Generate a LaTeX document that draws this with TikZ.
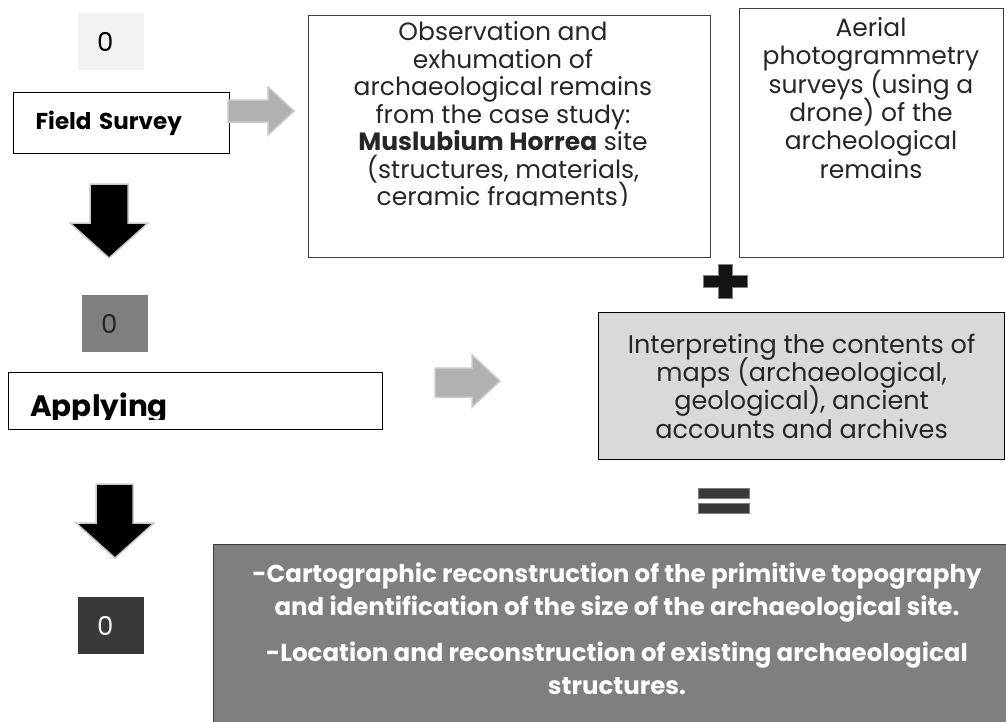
\documentclass[tikz,border=0pt]{standalone}
\usepackage{fontspec}
\setmainfont{Poppins}
\usetikzlibrary{positioning}
\definecolor{paleGray}{HTML}{F2F2F2}
\definecolor{midGray}{HTML}{7F7F7F}
\definecolor{darkGray}{HTML}{3A3838}
\definecolor{lightGray}{HTML}{D9D9D9}
\definecolor{arrowGray}{HTML}{B3B1AF}
\definecolor{rimGray}{HTML}{C9C9C9}
\definecolor{lineGray}{HTML}{404040}
\definecolor{inkBlack}{HTML}{262626}
\newcommand{\fixedlead}{\lineskiplimit=-100pt\relax}
\tikzset{
  stage box/.style={draw=black,line width=1.3pt,fill=white,anchor=north west,inner sep=0pt},
  note box/.style={draw=lineGray,line width=1.3pt,anchor=north west,inner sep=0pt},
  number tag/.style={anchor=north west,inner ysep=0pt,inner xsep=19pt,text width=28pt,align=left,
    minimum width=66pt,minimum height=57pt,font=\fontsize{26}{30}\selectfont},
  body text/.style={anchor=north,align=center,inner sep=0pt,text=inkBlack,font=\fontsize{25}{27.5}\selectfont\fixedlead},
  side arrow/.style={fill=arrowGray,draw=rimGray,line width=1.5pt,line join=miter},
  down arrow/.style={fill=black,draw=rimGray,line width=1.5pt,line join=miter},
  sign bar/.style={draw=gray,line width=.8pt}
}
\begin{document}
\begin{tikzpicture}[x=1pt,y=-1pt]
  \useasboundingbox (0,0) rectangle (1006,721);
  % left column: stages
  \node[number tag,fill=paleGray] (tag1) at (78,13) {0};
  \node[stage box,minimum width=216pt,minimum height=61pt,text width=172pt,inner xsep=22pt,align=left,
    font=\fontsize{23}{26}\selectfont\bfseries] (field) at (13,92) {Field Survey};
  \draw[down arrow] (90,184) -- (128,184) -- (128,223) -- (148,223) -- (109,258) -- (70,223) -- (90,223) -- cycle;
  \node[number tag,fill=midGray,text=inkBlack] (tag2) at (82,295) {0};
  \node[stage box,minimum width=374pt,minimum height=57pt] (apply) at (8,372) {};
  \begin{scope}
    \clip (8,372) rectangle (382,419);
    \node[anchor=base west,inner sep=0pt,font=\fontsize{29.5}{34}\selectfont\bfseries] (applytext) at (30,416) {Applying};
  \end{scope}
  \draw[down arrow] (96,484) -- (133,484) -- (133,523) -- (154,523) -- (115,558) -- (76,523) -- (96,523) -- cycle;
  \node[number tag,fill=darkGray,text=paleGray] (tag3) at (78,597) {0};
  % gray arrows
  \draw[side arrow] (228,100) -- (268,100) -- (268,87) -- (294,111) -- (268,135) -- (268,122) -- (228,122) -- cycle;
  \draw[side arrow] (435,368) -- (472,368) -- (472,355) -- (500,381) -- (472,407) -- (472,397) -- (435,397) -- cycle;
  % sources
  \node[note box,minimum width=402pt,minimum height=242pt] (obs) at (308,15) {};
  \begin{scope}
    \clip (308,15) rectangle (710,205);
    \node[body text] (obstext) at (503,21.5) {Observation and\\exhumation of\\archaeological remains\\from the case study:\\
      \textbf{Muslubium Horrea} site\\(structures, materials,\\ceramic fragments)};
  \end{scope}
  \node[note box,minimum width=264pt,minimum height=249pt] (aerial) at (739,8) {};
  \node[body text,font=\fontsize{25}{28.4}\selectfont\fixedlead] (aerialtext) at (871,17) {Aerial\\photogrammetry\\surveys (using a\\drone) of the\\archeological\\remains};
  \draw[sign bar,fill=black!92] (718,264) -- (732,264) -- (732,275) -- (747,275) -- (747,287) -- (732,287) -- (732,298)
    -- (718,298) -- (718,287) -- (703,287) -- (703,275) -- (718,275) -- cycle;
  \node[stage box,fill=lightGray,minimum width=406pt,minimum height=147pt,align=center,text=inkBlack,
    font=\fontsize{25.5}{28.2}\selectfont\fixedlead] (maps) at (598,312)
    {Interpreting the contents of\\maps (archaeological,\\geological), ancient\\accounts and archives};
  \draw[sign bar,fill=darkGray] (698,488) rectangle (749,498);
  \draw[sign bar,fill=darkGray] (698,503) rectangle (749,513);
  % result
  \node[note box,fill=midGray,minimum width=800pt,minimum height=185pt] (result) at (213,544) {};
  \node[anchor=north,align=center,inner sep=0pt,text=white,font=\fontsize{24.5}{32.5}\selectfont\bfseries\fixedlead] (resulttext) at (617,563)
    {-Cartographic reconstruction of the primitive topography\\and identification of the size of the archaeological site.\\[14pt]
     -Location and reconstruction of existing archaeological\\structures.};
\end{tikzpicture}
\end{document}
